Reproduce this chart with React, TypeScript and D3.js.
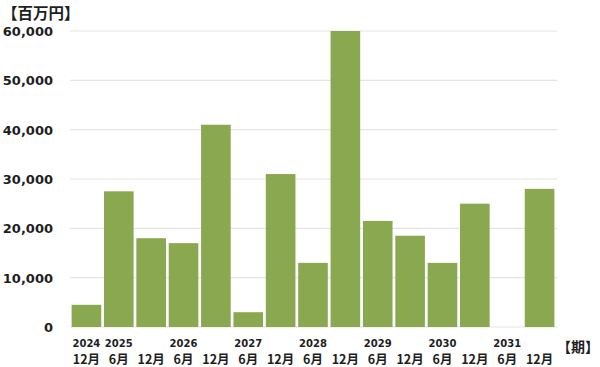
import React from "react";
import * as d3 from "d3";

const periods = ["2024-12","2025-6","2025-12","2026-6","2026-12","2027-6","2027-12","2028-6","2028-12","2029-6","2029-12","2030-6","2030-12","2031-6","2031-12"];
const yearLabels = ["2024","2025","","2026","","2027","","2028","","2029","","2030","","2031",""];
const monthLabels = ["12月","6月","12月","6月","12月","6月","12月","6月","12月","6月","12月","6月","12月","6月","12月"];
const values = [4500,27500,18000,17000,41000,3000,31000,13000,60000,21500,18500,13000,25000,0,28000];
const yTicks = [0,10000,20000,30000,40000,50000,60000];

const W = 600, H = 367;
const CJK = "'Noto Sans CJK JP', 'Noto Sans', sans-serif";
const NUM = "'DejaVu Sans', sans-serif";

export default function App() {
  const x = d3.scaleBand<string>().domain(periods).range([70, 556]).paddingInner(0.085).paddingOuter(0.05);
  const y = d3.scaleLinear().domain([0, 60000]).range([327, 31]);
  const fmt = d3.format(",");
  return (
    <svg width={W} height={H} style={{ position: "absolute", left: 0, top: 0, background: "#fff" }}>
      {yTicks.map(t => (
        <g key={t}>
          <line x1={70} x2={557} y1={y(t)} y2={y(t)} stroke="#e4e4e4" strokeWidth={1.2} />
          <text x={53} y={y(t)} dy="0.38em" textAnchor="end" fontFamily={NUM} fontSize={13} fontWeight="bold" fill="#1e1e1e">{fmt(t)}</text>
        </g>
      ))}
      {periods.map((p, i) => (
        <rect key={p} x={x(p)} y={y(values[i])} width={x.bandwidth()} height={y(0) - y(values[i])} fill="#8aa84f" />
      ))}
      {periods.map((p, i) => {
        const cx = (x(p) as number) + x.bandwidth() / 2;
        return (
          <g key={"l" + p}>
            {yearLabels[i] && (
              <text x={cx} y={347} textAnchor="middle" fontFamily={NUM} fontSize={10} fontWeight="bold" fill="#1e1e1e">{yearLabels[i]}</text>
            )}
            <text x={cx} y={364} textAnchor="middle" fontFamily={CJK} fontSize={12.5} fontWeight="bold" fill="#1e1e1e">{monthLabels[i]}</text>
          </g>
        );
      })}
      <text x={2} y={19} fontFamily={CJK} fontSize={15.5} fontWeight="bold" fill="#1e1e1e">【百万円】</text>
      <text x={557} y={352} fontFamily={CJK} fontSize={14} fontWeight="bold" fill="#1e1e1e">【期】</text>
    </svg>
  );
}
